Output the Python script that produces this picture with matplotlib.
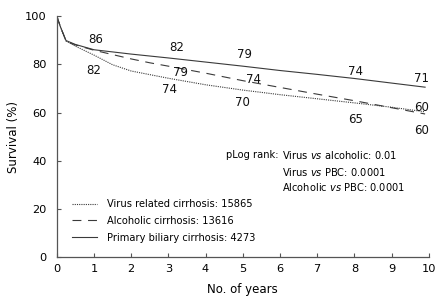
import matplotlib
matplotlib.use('Agg')
import matplotlib.pyplot as plt

# survival curves (years, %)
years_virus = [0, 0.1, 0.25, 0.5, 1, 1.5, 2, 3, 4, 5, 6, 7, 8, 9, 9.9]
surv_virus = [100, 95.5, 89.6, 87.5, 83.8, 79.8, 77.2, 74.2, 71.5, 69.3, 67.4, 65.7, 64.0, 62.2, 60.3]

years_alco = [0, 0.1, 0.25, 0.5, 1, 2, 2.5, 3, 4, 5, 6, 7, 8, 9, 9.9]
surv_alco = [100, 95.5, 89.6, 88.0, 85.8, 82.2, 80.6, 79.2, 76.3, 73.2, 70.4, 67.6, 64.9, 62.0, 59.4]

years_pbc = [0, 0.1, 0.25, 0.5, 1, 2, 3, 4, 5, 6, 7, 8, 9, 9.9]
surv_pbc = [100, 95.5, 89.8, 88.2, 86.0, 84.2, 82.6, 80.9, 79.2, 77.4, 75.8, 74.1, 72.2, 70.5]

legend_labels = ['Virus related cirrhosis: 15865',
                 'Alcoholic cirrhosis: 13616',
                 'Primary biliary cirrhosis: 4273']

# annotated survival percentages: (year, y-position, text)
pbc_notes = [(1.05, 90.4, '86'), (3.22, 87.0, '82'), (5.06, 83.9, '79'), (8.04, 76.9, '74'), (9.8, 73.9, '71')]
alco_notes = [(3.34, 76.5, '79'), (5.28, 73.8, '74'), (9.8, 62.2, '60')]
virus_notes = [(1.0, 77.2, '82'), (3.04, 69.4, '74'), (5.0, 64.1, '70'), (8.02, 57.2, '65'), (9.8, 52.5, '60')]

plt.rcParams['font.family'] = ['DejaVu Sans']
plt.rcParams['mathtext.fontset'] = 'dejavusans'

fig = plt.figure(figsize=(4.43, 3.06), dpi=100)
ax = fig.add_axes([0.128, 0.1585, 0.840, 0.7895])

line_col = '#3a3a3a'
ax.plot(years_virus, surv_virus, color=line_col, lw=0.8, linestyle=(0, (1, 1)), label=legend_labels[0])
ax.plot(years_alco, surv_alco, color=line_col, lw=0.8, linestyle=(0, (8, 6)), label=legend_labels[1])
ax.plot(years_pbc, surv_pbc, color=line_col, lw=0.8, linestyle='-', label=legend_labels[2])

for x, y, t in pbc_notes + alco_notes + virus_notes:
    ax.text(x, y, t, ha='center', va='center', fontsize=8.5, color='#111111')

ax.set_xlim(0, 10)
ax.set_ylim(0, 100)
ax.set_xticks(range(0, 11))
ax.set_yticks(range(0, 101, 20))
ax.tick_params(direction='in', length=3, width=0.8, color='#555555', labelsize=8.2)
ax.tick_params(axis='y', pad=7)
ax.tick_params(axis='x', pad=5)
for side in ['top', 'right']:
    ax.spines[side].set_visible(False)
for side in ['left', 'bottom']:
    ax.spines[side].set_color('#555555')
    ax.spines[side].set_linewidth(0.9)

ax.set_xlabel('No. of years', fontsize=8.5, labelpad=6)
ax.set_ylabel('Survival (%)', fontsize=8.5, labelpad=4)

leg = ax.legend(loc='lower left', bbox_to_anchor=(0.041, 0.062), frameon=False,
                borderpad=0, borderaxespad=0,
                fontsize=7.1, handlelength=2.5, handletextpad=1.1, labelspacing=0.68)

# log-rank p values
fs = 7.1
tx1 = 0.455
tx2 = 0.605
ax.text(tx1, 0.424, 'pLog rank:', transform=ax.transAxes, fontsize=fs, va='center', ha='left')
ax.text(tx2, 0.424, r'Virus $\mathit{vs}$ alcoholic: 0.01', transform=ax.transAxes, fontsize=fs, va='center', ha='left')
ax.text(tx2, 0.355, r'Virus $\mathit{vs}$ PBC: 0.0001', transform=ax.transAxes, fontsize=fs, va='center', ha='left')
ax.text(tx2, 0.293, r'Alcoholic $\mathit{vs}$ PBC: 0.0001', transform=ax.transAxes, fontsize=fs, va='center', ha='left')

fig.savefig('out.png', dpi=100)
